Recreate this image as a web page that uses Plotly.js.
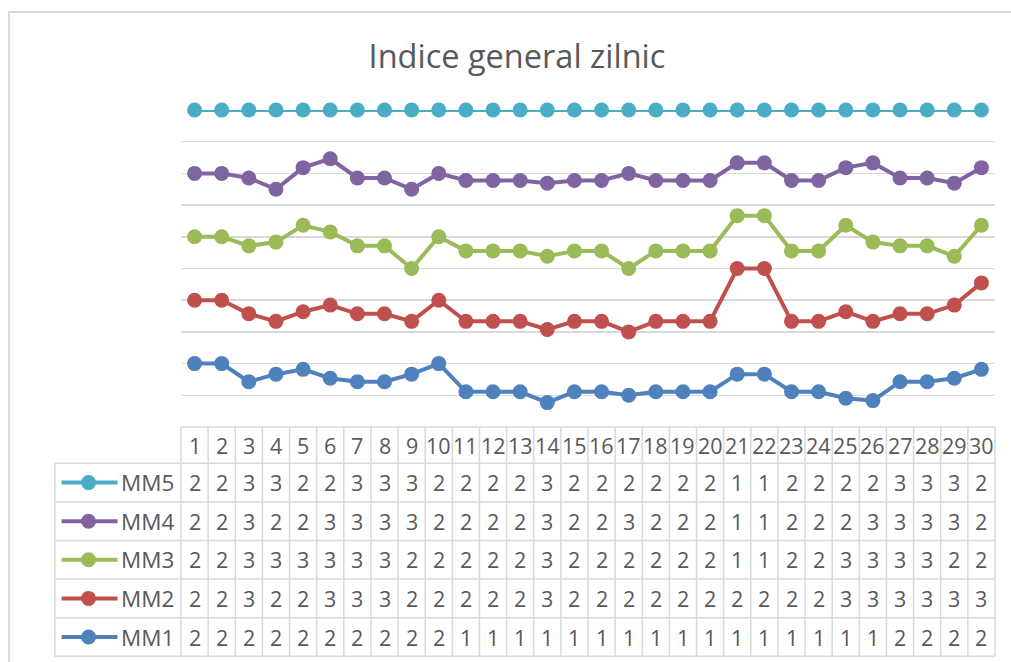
<!DOCTYPE html>
<html>
<head>
<meta charset="utf-8">
<script src="https://cdn.plot.ly/plotly-3.0.1.min.js"></script>
<style>html,body{margin:0;padding:0;background:#fff;}#chart{width:1011px;height:662px;}</style>
</head>
<body>
<div id="chart"></div>
<script>
const days = [1,2,3,4,5,6,7,8,9,10,11,12,13,14,15,16,17,18,19,20,21,22,23,24,25,26,27,28,29,30];
const seriesNames = ["MM1","MM2","MM3","MM4","MM5"];
const mm1 = [2,2,2,2,2,2,2,2,2,2,1,1,1,1,1,1,1,1,1,1,1,1,1,1,1,1,2,2,2,2];
const mm2 = [2,2,3,2,2,3,3,3,2,2,2,2,2,3,2,2,2,2,2,2,2,2,2,2,3,3,3,3,3,3];
const mm3 = [2,2,3,3,3,3,3,3,2,2,2,2,2,3,2,2,2,2,2,2,1,1,2,2,3,3,3,3,2,2];
const mm4 = [2,2,3,2,2,3,3,3,3,2,2,2,2,3,2,2,3,2,2,2,1,1,2,2,2,3,3,3,3,2];
const mm5 = [2,2,3,3,2,2,3,3,3,2,2,2,2,3,2,2,2,2,2,2,1,1,2,2,2,2,3,3,3,2];
const titleText = "Indice general zilnic";

const seriesValues = [mm1, mm2, mm3, mm4, mm5];
const colors = ["#4F81BD","#C0504D","#9BBB59","#8064A2","#4BACC6"];

const W = 1011, H = 662;
const plotL = 180.5, plotR = 995, plotT = 110, plotB = 427;
const textColor = "#595959";
const gridColor = "#d9d9d9";
const fontFam = "Open Sans, Noto Sans, sans-serif";

// pixel -> paper helpers
const px = p => (p - plotL) / (plotR - plotL);
const py = p => (plotB - p) / (plotB - plotT);

const traces = seriesValues.map((vals, i) => ({
  type: "scatter",
  mode: "lines+markers",
  name: seriesNames[i],
  x: days,
  y: vals,
  stackgroup: "one",
  groupnorm: i === 0 ? "fraction" : undefined,
  fill: "none",
  line: {color: colors[i], width: 4},
  marker: {color: colors[i], size: 15},
  cliponaxis: false,
  hoverinfo: "skip"
}));

const shapes = [];
const annotations = [];

// outer border
shapes.push({type:"rect", xref:"paper", yref:"paper", x0:px(8.5), x1:px(1030), y0:py(12), y1:py(700),
  line:{color:gridColor, width:2}, fillcolor:"rgba(0,0,0,0)", layer:"below"});

// table geometry
const headerTop = 427, headerBot = 463.3;
const rowH = (656.3 - 463.3) / 5;
const tableLeft = 54.3;
const colW = (plotR - plotL) / days.length;

// horizontal lines
shapes.push({type:"line", xref:"paper", yref:"paper", x0:px(plotL), x1:px(plotR), y0:py(headerTop), y1:py(headerTop), line:{color:gridColor, width:1.5}});
for (let r = 0; r <= 5; r++) {
  const yy = headerBot + r * rowH;
  shapes.push({type:"line", xref:"paper", yref:"paper", x0:px(tableLeft), x1:px(plotR), y0:py(yy), y1:py(yy), line:{color:gridColor, width:1.5}});
}
// vertical lines
shapes.push({type:"line", xref:"paper", yref:"paper", x0:px(tableLeft), x1:px(tableLeft), y0:py(headerBot), y1:py(headerBot + 5*rowH), line:{color:gridColor, width:1.5}});
for (let c = 0; c <= days.length; c++) {
  const xx = plotL + c * colW;
  shapes.push({type:"line", xref:"paper", yref:"paper", x0:px(xx), x1:px(xx), y0:py(headerTop), y1:py(headerBot + 5*rowH), line:{color:gridColor, width:1.5}});
}

const cellFont = {family: fontFam, size: 21.5, color: textColor};
// header labels
days.forEach((d, c) => {
  annotations.push({xref:"x", yref:"paper", x:d, y:py((headerTop+headerBot)/2), text:String(d),
    showarrow:false, font:cellFont, xanchor:"center", yanchor:"middle"});
});
// rows: MM5 at top down to MM1
for (let r = 0; r < 5; r++) {
  const si = 4 - r;
  const cy = headerBot + (r + 0.5) * rowH;
  seriesValues[si].forEach((v, c) => {
    annotations.push({xref:"x", yref:"paper", x:days[c], y:py(cy), text:String(v),
      showarrow:false, font:cellFont, xanchor:"center", yanchor:"middle"});
  });
  // legend key
  shapes.push({type:"line", xref:"paper", yref:"paper", x0:px(61), x1:px(117), y0:py(cy), y1:py(cy), line:{color:colors[si], width:4}});
  const rad = 7.5;
  shapes.push({type:"circle", xref:"paper", yref:"paper", x0:px(88-rad), x1:px(88+rad), y0:py(cy-rad), y1:py(cy+rad),
    line:{color:colors[si], width:0}, fillcolor:colors[si]});
  annotations.push({xref:"paper", yref:"paper", x:px(118), y:py(cy), text:seriesNames[si], showarrow:false,
    font:{family: fontFam, size: 22.5, color: textColor}, xanchor:"left", yanchor:"middle"});
}

const layout = {
  width: W, height: H,
  paper_bgcolor: "#ffffff", plot_bgcolor: "#ffffff",
  margin: {l: plotL, r: W - plotR, t: plotT, b: H - plotB, pad: 0},
  title: {text: titleText, font: {family: fontFam, size: 32.5, color: textColor}, x: 517/W, xref: "container", xanchor: "center", y: 1 - 57/H, yref: "container", yanchor: "middle"},
  showlegend: false,
  xaxis: {range: [0.5, 30.5], showgrid: false, zeroline: false, showticklabels: false, ticks: "", showline: false, fixedrange: true},
  yaxis: {range: [0, 1], dtick: 0.1, tick0: 0, showgrid: true, gridcolor: gridColor, gridwidth: 1.5, zeroline: false, showticklabels: false, ticks: "", showline: false, fixedrange: true},
  shapes: shapes,
  annotations: annotations
};

Plotly.newPlot("chart", traces, layout, {staticPlot: true, displayModeBar: false});
</script>
</body>
</html>
